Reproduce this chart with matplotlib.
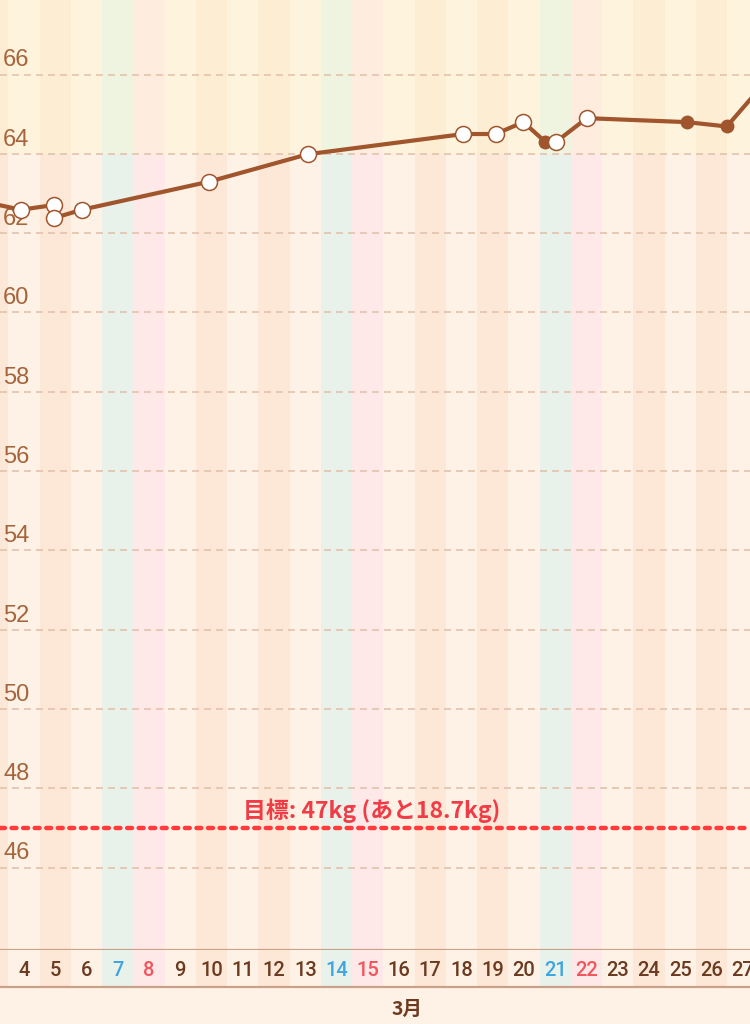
import datetime
import matplotlib
matplotlib.use('Agg')
import matplotlib.pyplot as plt
import matplotlib.transforms as mtransforms

# data
year, month = 2020, 3
days = list(range(3, 29))
label_days = list(range(4, 28))
month_label = '3月'

# weight records (position in days, kg); filled = measured by the scale
rec_day = [2.90, 3.90, 4.96, 4.96, 5.85, 9.93, 13.08, 18.06, 19.09, 19.98,
           20.67, 21.02, 22.01, 25.21, 26.49, 27.60]
rec_kg = [62.76, 62.59, 62.71, 62.38, 62.59, 63.30, 63.99, 64.50, 64.50, 64.80,
          64.31, 64.30, 64.90, 64.80, 64.69, 65.70]
rec_filled = [False, False, False, False, False, False, False, False, False, False,
              True, False, False, True, True, False]

goal_kg = 47
remaining_kg = 18.7
upper_zone = 64
yticks = list(range(46, 67, 2))

# colours
brown = '#A0552D'
light = '#FEF2E6'
dark = '#FDE8D8'
sat = '#E8F2EA'
sun = '#FEE8E8'

fig = plt.figure(figsize=(7.5, 10.24), dpi=100, facecolor='#FEF2E7')
ax = fig.add_axes([0, 1 - 950 / 1024, 1, 950 / 1024])
band = fig.add_axes([0, 1 - 987 / 1024, 1, 37 / 1024], sharex=ax)

xmin, xmax = 3.232, 27.232
ymin, ymax = 43.92, 67.88
ax.set_xlim(xmin, xmax)
ax.set_ylim(ymin, ymax)
band.set_ylim(0, 1)


def kind(d):
    wd = datetime.date(year, month, d).weekday()
    if wd == 5:
        return 'sat'
    if wd == 6:
        return 'sun'
    return 'dark' if wd in (1, 3) else 'light'


stripe = {'sat': sat, 'sun': sun, 'dark': dark, 'light': light}
label_col = {'sat': '#3DA5E0', 'sun': '#F2555C', 'dark': '#6B3A1F', 'light': '#6B3A1F'}

# day stripes
for d in days:
    c = stripe[kind(d)]
    ax.axvspan(d - 0.5, d + 0.5, color=c, lw=0, zorder=0)
    band.axvspan(d - 0.5, d + 0.5, color=c, lw=0, zorder=0)

for d in label_days:
    band.text(d, 0.45, str(d), ha='center', va='center', color=label_col[kind(d)],
              fontsize=14.5, fontweight='medium', family=['Roboto', 'DejaVu Sans'],
              clip_on=True)

# yellow tint above the upper zone
ax.axhspan(upper_zone, ymax, color='#FFFAC8', alpha=0.28, lw=0, zorder=0.5)

# grid and y labels
for v in yticks:
    ax.axhline(v, color='#E2C3AE', lw=1.2, ls=(0, (4.2, 3)), zorder=1)
    ax.annotate(str(v), xy=(0.004, v), xycoords=('axes fraction', 'data'),
                xytext=(0, 5.8), textcoords='offset points', va='baseline',
                ha='left', color='#A5643C', fontsize=17,
                family=['Liberation Sans', 'DejaVu Sans'], zorder=2)

# goal line
ax.axhline(goal_kg, color='#FF3B3B', lw=3.2, ls=(0, (1.1, 1.5)),
           dash_capstyle='round', zorder=2)
ax.text(0.496, goal_kg + 0.42, f'目標: {goal_kg}kg (あと{remaining_kg}kg)',
        transform=mtransforms.blended_transform_factory(ax.transAxes, ax.transData),
        ha='center', va='center', color='#F03C46', fontsize=16.5, fontweight='bold',
        family=['Noto Sans CJK JP', 'DejaVu Sans'], zorder=2)

# weight line and markers
ax.plot(rec_day, rec_kg, color=brown, lw=3, zorder=3, solid_joinstyle='round',
        solid_capstyle='round')
for x, y, f in zip(rec_day, rec_kg, rec_filled):
    if f:
        ax.plot(x, y, 'o', ms=10, color=brown, mec=brown, mew=0, zorder=4)
    else:
        ax.plot(x, y, 'o', ms=11.5, mfc='white', mec=brown, mew=1.1, zorder=4)

for a in (ax, band):
    a.set_xticks([])
    a.set_yticks([])
    for s in ('top', 'left', 'right'):
        a.spines[s].set_visible(False)
    a.spines['bottom'].set_color('#C9A189')
    a.spines['bottom'].set_linewidth(1.6)
    a.spines['bottom'].set_zorder(5)

fig.text(407 / 750, 1 - 1009 / 1024, month_label, ha='center', va='center',
         color='#6B3A1F', fontsize=14, fontweight='bold',
         family=['Noto Sans CJK JP', 'DejaVu Sans'])

fig.savefig('out.png', dpi=100, facecolor=fig.get_facecolor())
